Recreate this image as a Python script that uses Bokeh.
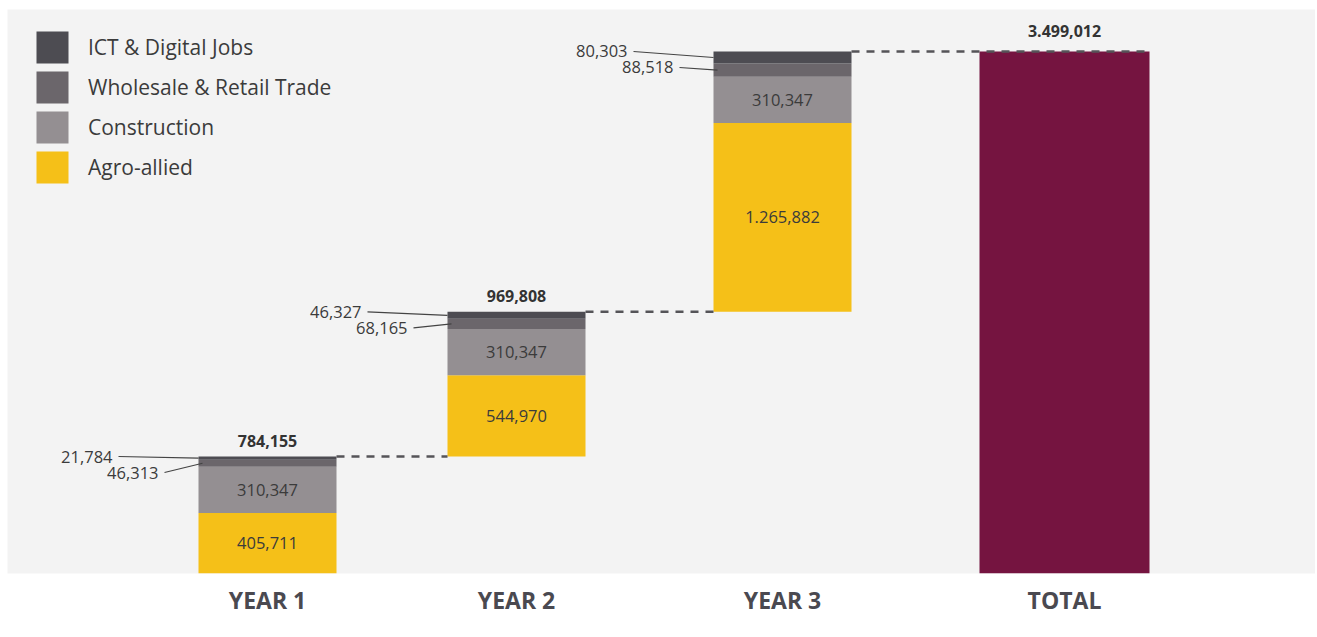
from bokeh.plotting import figure
from bokeh.models import ColumnDataSource, Range1d, FixedTicker, Legend, LegendItem
from bokeh.core.properties import value
from bokeh.embed import file_html
from bokeh.resources import INLINE

# ---------------- data ----------------
categories = ["YEAR 1", "YEAR 2", "YEAR 3"]
total_category = "TOTAL"
agro = [405711, 544970, 1265882]
construction = [310347, 310347, 310347]
wholesale = [46313, 68165, 88518]
ict = [21784, 46327, 80303]
year_total_labels = [784155, 969808]      # printed totals above Year 1 and Year 2
total_value = 3499012                     # printed grand total

sector_names = ["Agro-allied", "Construction", "Wholesale & Retail Trade", "ICT & Digital Jobs"]

# ---------------- layout / style ----------------
W, H = 1315, 630
LEFT, TOP = 7, 9
FRAME_H = 564
BOTTOM_BORDER = H - TOP - FRAME_H
Y_END = 3780500
PX = Y_END / FRAME_H            # data units per pixel

bar_x = [267, 516, 782]
total_x = 1064
bar_w = 138
total_w = 170

colors = ["#f5c018", "#948f92", "#6b666b", "#4d4c52"]
total_color = "#751440"
text_color = "#3b3b3b"
font = value("Open Sans")


def fmt(v):
    s = f"{v:,}"
    if v >= 1_000_000:
        s = s.replace(",", ".", 1)
    return s


p = figure(width=W, height=H, output_backend="svg", toolbar_location=None,
           x_range=Range1d(LEFT, W), y_range=Range1d(0, Y_END),
           min_border_left=LEFT, min_border_right=0, min_border_top=TOP,
           min_border_bottom=BOTTOM_BORDER, y_axis_location=None)
p.background_fill_color = "#f3f3f3"
p.border_fill_color = "white"
p.outline_line_color = None
p.grid.grid_line_color = None

# ---------------- stacked waterfall bars ----------------
series = [agro, construction, wholesale, ict]
bottoms = [[0.0] * 3 for _ in series]
tops = [[0.0] * 3 for _ in series]
base = 0.0
bar_tops = []
for i in range(3):
    b = base
    for s_idx, s in enumerate(series):
        bottoms[s_idx][i] = b
        tops[s_idx][i] = b + s[i]
        b += s[i]
    bar_tops.append(b)
    base = b

renderers = []
for s_idx, s in enumerate(series):
    src = ColumnDataSource(dict(x=bar_x, bottom=bottoms[s_idx], top=tops[s_idx]))
    r = p.vbar(x="x", width=bar_w, bottom="bottom", top="top", source=src,
               fill_color=colors[s_idx], line_color=None)
    renderers.append(r)

# total bar
p.vbar(x=[total_x], width=total_w, bottom=[0], top=[total_value],
       fill_color=total_color, line_color=None)

# ---------------- dashed connectors ----------------
ends = bar_x[1:] + [total_x]
for i in range(3):
    x0 = bar_x[i] + bar_w / 2
    if i < 2:
        x1 = ends[i] - bar_w / 2
    else:
        x1 = total_x + total_w / 2
    p.line([x0, x1], [bar_tops[i], bar_tops[i]], line_color="#555458",
           line_width=2.5, line_dash="8 7")

# ---------------- inside labels (agro, construction) ----------------
in_x, in_y, in_t = [], [], []
for s_idx in (0, 1):
    for i in range(3):
        in_x.append(bar_x[i])
        in_y.append((bottoms[s_idx][i] + tops[s_idx][i]) / 2)
        in_t.append(fmt(series[s_idx][i]))
p.text(x=in_x, y=in_y, text=in_t, text_font=font, text_font_size="16.5px",
       text_color=text_color, text_align="center", text_baseline="middle")

# ---------------- leader labels (ICT, wholesale) ----------------
for i in range(3):
    L = bar_x[i] - bar_w / 2
    top = bar_tops[i]
    ict_mid = (bottoms[3][i] + tops[3][i]) / 2
    wh_mid = (bottoms[2][i] + tops[2][i]) / 2
    y_ict_lab = top + 0 * PX
    y_wh_lab = top - 16 * PX
    p.text(x=[L - 86], y=[y_ict_lab], text=[fmt(ict[i])], text_font=font,
           text_font_size="16.5px", text_color=text_color, text_align="right",
           text_baseline="middle")
    p.text(x=[L - 40], y=[y_wh_lab], text=[fmt(wholesale[i])], text_font=font,
           text_font_size="16.5px", text_color=text_color, text_align="right",
           text_baseline="middle")
    p.segment(x0=[L - 80], y0=[y_ict_lab], x1=[L], y1=[ict_mid],
              line_color="#444444", line_width=1.2)
    p.segment(x0=[L - 34], y0=[y_wh_lab], x1=[L + 4], y1=[wh_mid],
              line_color="#444444", line_width=1.2)

# ---------------- totals above bars ----------------
p.text(x=bar_x[:2], y=bar_tops[:2], text=[fmt(v) for v in year_total_labels],
       text_font=font, text_font_size="16px", text_font_style="bold",
       text_color="#333333", text_align="center", text_baseline="middle",
       y_offset=-16)
p.text(x=[total_x], y=[total_value], text=[fmt(total_value)],
       text_font=font, text_font_size="16px", text_font_style="bold",
       text_color="#333333", text_align="center", text_baseline="middle",
       y_offset=-20)

# ---------------- legend ----------------
legend = Legend(items=[LegendItem(label=sector_names[k], renderers=[renderers[k]])
                       for k in (3, 2, 1, 0)],
                location=(25, FRAME_H - 18 - 160), orientation="vertical")
legend.glyph_width = 40
legend.glyph_height = 40
legend.label_height = 40
legend.spacing = 0
legend.padding = 0
legend.margin = 0
legend.label_standoff = 16
legend.label_text_font = "Open Sans"
legend.label_text_font_size = "21px"
legend.label_text_color = "#3b3b3b"
legend.background_fill_alpha = 0
legend.border_line_alpha = 0
p.add_layout(legend, "center")

# ---------------- x axis ----------------
ticks = bar_x + [total_x]
p.xaxis.ticker = FixedTicker(ticks=ticks)
p.xaxis.major_label_overrides = {t: lab for t, lab in zip(ticks, categories + [total_category])}
p.xaxis.axis_line_color = None
p.xaxis.major_tick_line_color = None
p.xaxis.minor_tick_line_color = None
p.xaxis.major_label_standoff = 4
p.xaxis.major_label_text_font = "Open Sans"
p.xaxis.major_label_text_font_style = "bold"
p.xaxis.major_label_text_font_size = "23px"
p.xaxis.major_label_text_color = "#4a4950"

open("out.html", "w").write(file_html(p, INLINE))
